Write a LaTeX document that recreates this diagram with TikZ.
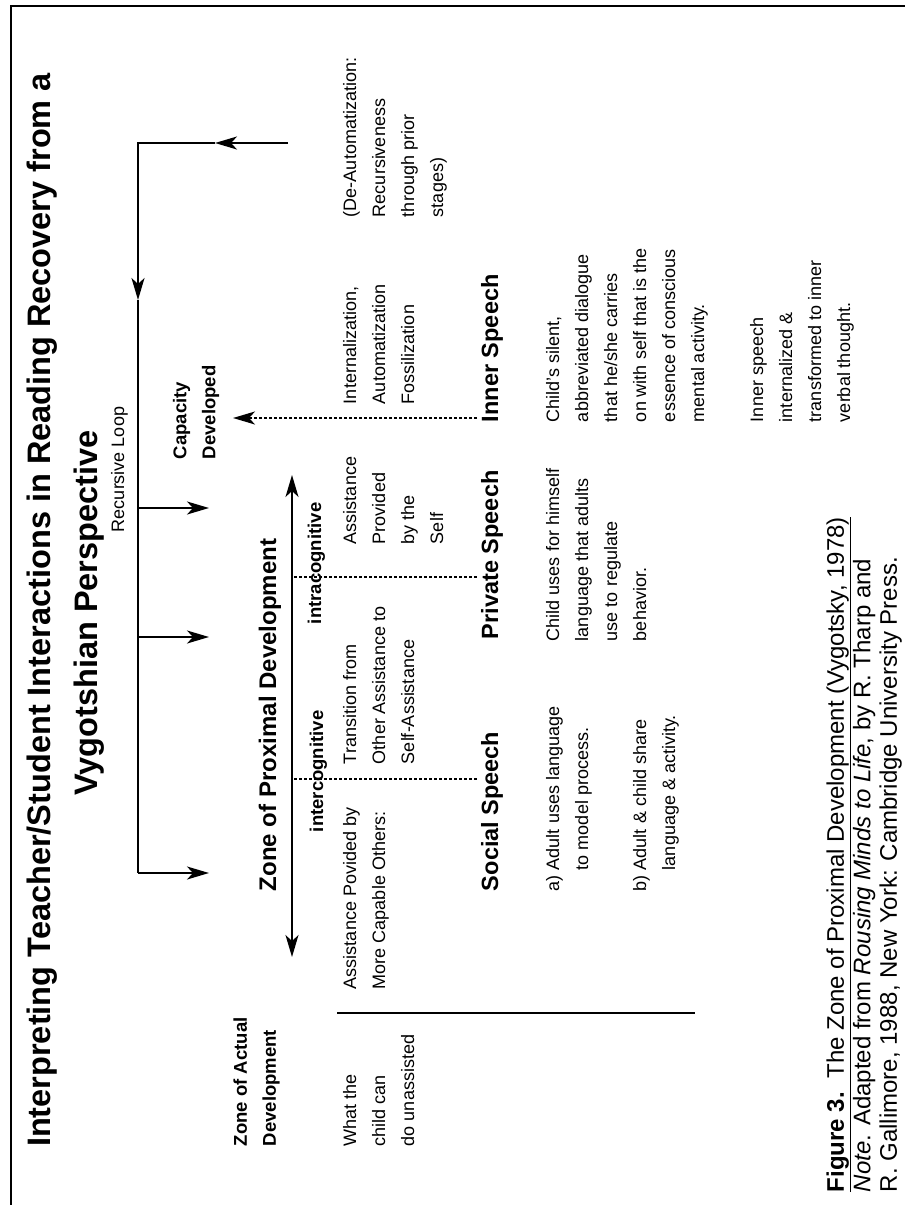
\documentclass[tikz,border=0pt]{standalone}
\usepackage{fontspec}
\setmainfont{Liberation Sans}
\usetikzlibrary{arrows.meta}

\begin{document}
\begin{tikzpicture}[x=1pt,y=-1pt,>={Stealth[length=22pt,width=13pt,inset=6pt]},
  line width=2pt,
  every node/.style={rotate=90,inner sep=0pt},
  txt/.style={anchor=north west,align=left,font=\fontsize{18}{29}\selectfont},
  zonelabel/.style={anchor=north west,align=left,font=\bfseries\fontsize{18.5}{29}\selectfont},
  cogn/.style={anchor=base west,font=\bfseries\fontsize{18.5}{29}\selectfont},
  speechhead/.style={anchor=base west,font=\bfseries\fontsize{23.5}{29}\selectfont},
  titletext/.style={anchor=base,font=\bfseries\fontsize{32.5}{40}\selectfont},
  dotline/.style={dash pattern=on 3pt off 2pt}]
  \useasboundingbox (0,0) rectangle (905,1205);
  \draw[line width=1.5pt] (11,1205) -- (11,6) -- (905,6);

  \node[titletext] (title1) at (50,610) {Interpreting Teacher/Student Interactions in Reading Recovery from a};
  \node[titletext] (title2) at (97,613) {Vygotshian Perspective};
  \node[anchor=base west,font=\fontsize{18}{29}\selectfont] (loop) at (124,533) {Recursive Loop};

  \coordinate (loopin) at (288,143);
  \coordinate (looptip) at (215,143);
  \coordinate (corner) at (138,143);
  \coordinate (downtip) at (138,300);
  \coordinate (armA) at (138,873);
  \coordinate (armB) at (138,637);
  \coordinate (armC) at (138,508);
  \coordinate (tipA) at (209,873);
  \coordinate (tipB) at (209,637);
  \coordinate (tipC) at (209,508);
  \draw[->] (loopin) -- (looptip);
  \draw[->] (looptip) -- (corner) -- (downtip);
  \draw (downtip) -- (armA);
  \draw[->] (armA) -- (tipA);
  \draw[->] (armB) -- (tipB);
  \draw[->] (armC) -- (tipC);

  \node[zonelabel] (capacity) at (172,460) {Capacity\\Developed};
  \node[zonelabel] (actual) at (232.5,1147) {Zone of Actual\\Development};
  \node[anchor=base west,font=\bfseries\fontsize{24}{29}\selectfont] (zpd) at (276,892) {Zone of Proximal Development};

  \coordinate (zpdlow) at (292,957);
  \coordinate (zpdhigh) at (292,475);
  \draw[<->,line width=1.5pt] (zpdlow) -- (zpdhigh);

  \coordinate (interA) at (294,779);
  \coordinate (interB) at (477,779);
  \coordinate (intraA) at (294,577);
  \coordinate (intraB) at (477,577);
  \coordinate (innerend) at (477,418);
  \coordinate (captip) at (233,418);
  \draw[dotline] (interA) -- (interB);
  \draw[dotline] (intraA) -- (intraB);
  \draw[dotline,->] (innerend) -- (captip);

  \node[cogn] (inter) at (323,833) {intercognitive};
  \node[cogn] (intra) at (321,625) {intracognitive};

  \node[txt] (whatchild) at (342,1147) {What the\\child can\\do unassisted};
  \node[txt] (others) at (342,990) {Assistance Povided by\\More Capable Others:};
  \node[txt] (transition) at (342,765) {Transition from\\Other Assistance to\\Self-Assistance};
  \node[txt] (byself) at (342,545) {Assistance\\Provided\\by the\\Self};
  \node[txt] (internal) at (342,405) {Internalization,\\Automatization\\Fossilization};
  \node[txt] (deauto) at (342,218) {(De-Automatization:\\Recursiveness\\through prior\\stages)};

  \coordinate (sepA) at (337,1013);
  \coordinate (sepB) at (695,1013);
  \draw[line width=2.5pt] (sepA) -- (sepB);

  \node[speechhead] (social) at (498,892) {Social Speech};
  \node[speechhead] (private) at (498,640) {Private Speech};
  \node[speechhead] (inner) at (498,423) {Inner Speech};

  \node[txt] (socialA) at (545,892) {a)~Adult uses language\\\phantom{a)~}to model process.};
  \node[txt] (socialB) at (632,892) {b)~Adult \& child share\\\phantom{b)~}language \& activity.};
  \node[txt] (privatetxt) at (545,642) {Child uses for himself\\language that adults\\use to regulate\\behavior.};
  \node[txt] (innertxt) at (545,423) {Child’s silent,\\abbreviated dialogue\\that he/she carries\\on with self that is the\\essence of conscious\\mental activity.};
  \node[txt] (thought) at (749,423) {Inner speech\\internalized \&\\transformed to inner\\verbal thought.};

  \node[anchor=north west,align=left,font=\fontsize{24}{26.5}\selectfont] (caption) at (825.5,1193)
    {\underline{\textbf{Figure 3.}\ \ The Zone of Proximal Development (Vygotsky, 1978)}\\
     \textit{Note}. Adapted from \textit{Rousing Minds to Life}, by R. Tharp and\\
     R. Gallimore, 1988, New York: Cambridge University Press.};
\end{tikzpicture}
\end{document}
